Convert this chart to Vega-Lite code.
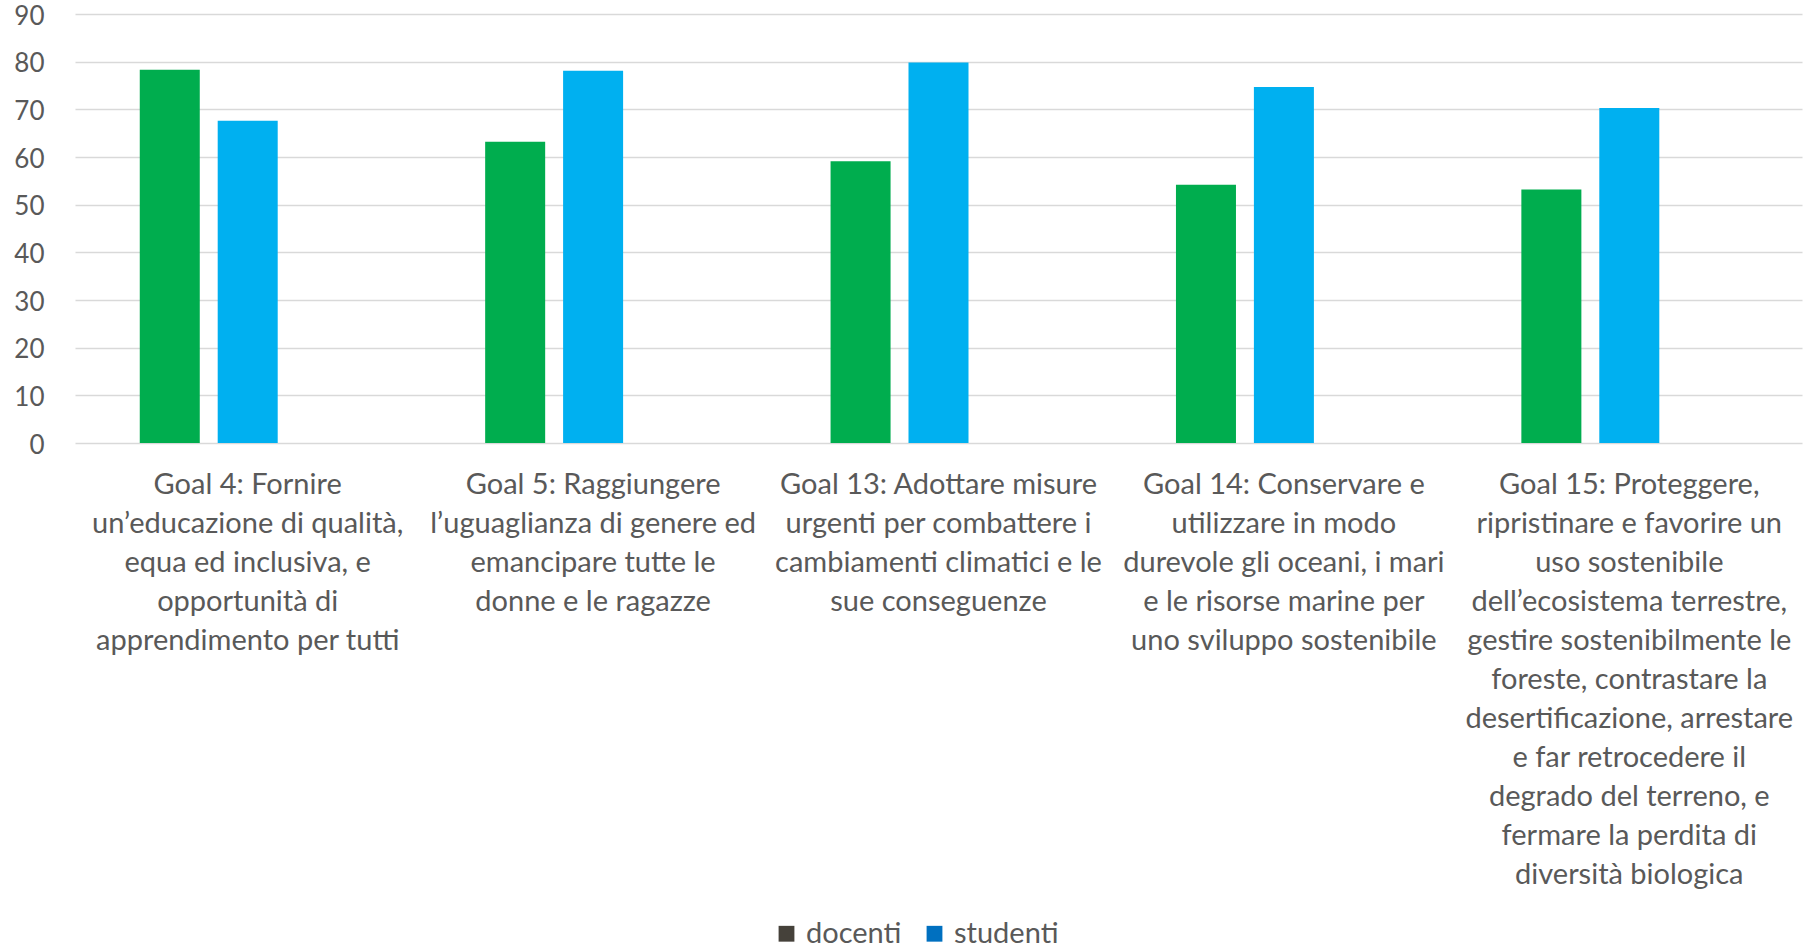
{
  "$schema": "https://vega.github.io/schema/vega-lite/v6.json",
  "width": 1727,
  "height": 429,
  "autosize": {"type": "none"},
  "padding": {"left": 75, "top": 14, "right": 14, "bottom": 508},
  "background": "white",
  "config": {
    "view": {"stroke": null},
    "font": "Lato",
    "axis": {"labelColor": "#595959", "labelFont": "Lato"},
    "legend": {"labelColor": "#595959", "labelFont": "Lato"}
  },
  "data": {
    "values": [
      {"goal": "Goal 4: Fornire|un’educazione di qualità,|equa ed inclusiva, e|opportunità di|apprendimento per tutti", "series": "docenti", "value": 78.3},
      {"goal": "Goal 4: Fornire|un’educazione di qualità,|equa ed inclusiva, e|opportunità di|apprendimento per tutti", "series": "studenti", "value": 67.6},
      {"goal": "Goal 5: Raggiungere|l’uguaglianza di genere ed|emancipare tutte le|donne e le ragazze", "series": "docenti", "value": 63.2},
      {"goal": "Goal 5: Raggiungere|l’uguaglianza di genere ed|emancipare tutte le|donne e le ragazze", "series": "studenti", "value": 78.1},
      {"goal": "Goal 13: Adottare misure|urgenti per combattere i|cambiamenti climatici e le|sue conseguenze", "series": "docenti", "value": 59.1},
      {"goal": "Goal 13: Adottare misure|urgenti per combattere i|cambiamenti climatici e le|sue conseguenze", "series": "studenti", "value": 79.8},
      {"goal": "Goal 14: Conservare e|utilizzare in modo|durevole gli oceani, i mari|e le risorse marine per|uno sviluppo sostenibile", "series": "docenti", "value": 54.2},
      {"goal": "Goal 14: Conservare e|utilizzare in modo|durevole gli oceani, i mari|e le risorse marine per|uno sviluppo sostenibile", "series": "studenti", "value": 74.7},
      {"goal": "Goal 15: Proteggere,|ripristinare e favorire un|uso sostenibile|dell’ecosistema terrestre,|gestire sostenibilmente le|foreste, contrastare la|desertificazione, arrestare|e far retrocedere il|degrado del terreno, e|fermare la perdita di|diversità biologica", "series": "docenti", "value": 53.2},
      {"goal": "Goal 15: Proteggere,|ripristinare e favorire un|uso sostenibile|dell’ecosistema terrestre,|gestire sostenibilmente le|foreste, contrastare la|desertificazione, arrestare|e far retrocedere il|degrado del terreno, e|fermare la perdita di|diversità biologica", "series": "studenti", "value": 70.3}
    ]
  },
  "encoding": {
    "x": {
      "field": "goal",
      "type": "nominal",
      "sort": null,
      "title": null,
      "scale": {"paddingInner": 0.375, "paddingOuter": 0.1875},
      "axis": {
        "labelAngle": 0,
        "labelExpr": "split(datum.label, '|')",
        "labelFontSize": 29,
        "labelLineHeight": 39,
        "labelBaseline": "top",
        "labelPadding": 27,
        "labelLimit": 0,
        "labelOverlap": false,
        "domain": false,
        "ticks": false
      }
    },
    "y": {
      "field": "value",
      "type": "quantitative",
      "title": null,
      "scale": {"domain": [0, 90]},
      "axis": {
        "values": [0, 10, 20, 30, 40, 50, 60, 70, 80, 90],
        "domain": false,
        "ticks": false,
        "gridColor": "#d9d9d9",
        "gridWidth": 1.5,
        "labelFontSize": 26,
        "labelPadding": 31,
        "labelOffset": 2
      }
    }
  },
  "layer": [
    {
      "mark": {"type": "bar"},
      "encoding": {
        "xOffset": {
          "field": "series",
          "type": "nominal",
          "scale": {"domain": ["docenti", "studenti", "_"], "paddingInner": 0.23, "paddingOuter": 0}
        },
        "color": {
          "field": "series",
          "type": "nominal",
          "scale": {"domain": ["docenti", "studenti"], "range": ["#00AD4E", "#00B0F0"]},
          "legend": null
        }
      }
    },
    {
      "mark": {"type": "point", "shape": "square", "filled": true, "opacity": 0},
      "encoding": {
        "color": {
          "field": "series",
          "type": "nominal",
          "scale": {"domain": ["docenti", "studenti"], "range": ["#45413A", "#0070C0"]},
          "legend": {
            "title": null,
            "orient": "none",
            "direction": "horizontal",
            "legendX": 697,
            "legendY": 905,
            "symbolType": "square",
            "symbolSize": 250,
            "symbolOpacity": 1,
            "labelFontSize": 29,
            "labelOffset": 5,
            "columnPadding": 18
          }
        }
      }
    }
  ],
  "resolve": {"scale": {"color": "independent"}}
}
